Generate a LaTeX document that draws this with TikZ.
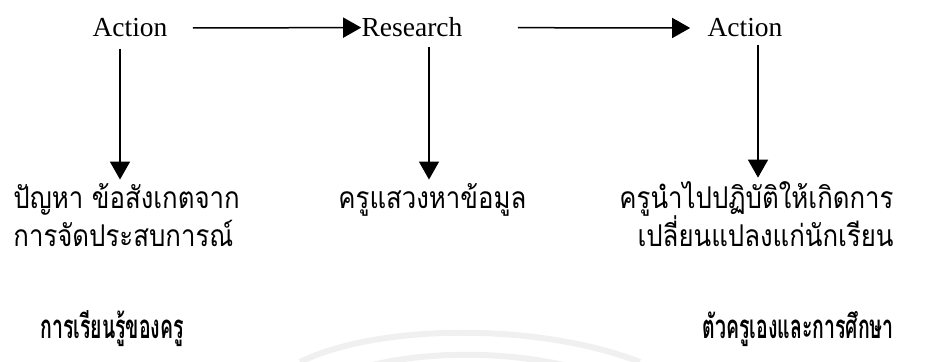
\documentclass[tikz,border=0pt]{standalone}
\usepackage{fontspec}
\setmainfont{Liberation Serif}
\newfontfamily\thaifont[Script=Thai, FakeStretch=0.86]{Loma}
\newfontfamily\thaiboldfont[Script=Thai, FakeStretch=0.59]{Loma}
\usetikzlibrary{arrows.meta}
\tikzset{
  word/.style={inner sep=0pt, font=\fontsize{13.75}{16}\selectfont},
  thai/.style={inner sep=0pt, font=\thaifont\fontsize{15}{18}\selectfont},
  thaibold/.style={inner sep=0pt, font=\thaiboldfont\bfseries\fontsize{16.5}{18}\selectfont},
  arr/.style={-{Triangle[width=10pt,length=9pt]}, line width=0.75pt},
}
\begin{document}
\begin{tikzpicture}[x=0.5pt,y=-0.5pt]
  \useasboundingbox (0,0) rectangle (925,362);
  % faint watermark
  \draw[gray!12, line width=3pt] (300,362) .. controls (380,323) and (540,323) .. (640,362);
  \draw[gray!12, line width=3pt] (340,375) .. controls (410,348) and (520,348) .. (600,375);
  % top row
  \node[word, anchor=base] (act1) at (130,37) {Action};
  \node[word, anchor=base] (res) at (412,37) {Research};
  \node[word, anchor=base] (act2) at (745,37) {Action};
  % thai text
  \node[thai, anchor=base west] (probA) at (13,209) {ปัญหา ข้อสังเกตจาก};
  \node[thai, anchor=base west] (probB) at (13,247) {การจัดประสบการณ์};
  \node[thaibold, anchor=base west] (learn) at (40,339) {การเรียนรู้ของครู};
  \node[thai, anchor=base west] (seek) at (338,209) {ครูแสวงหาข้อมูล};
  \node[thai, anchor=base east] (useA) at (894,209) {ครูนำไปปฏิบัติให้เกิดการ};
  \node[thai, anchor=base east] (useB) at (894,247) {เปลี่ยนแปลงแก่นักเรียน};
  \node[thaibold, anchor=base east] (self) at (894,339) {ตัวครูเองและการศึกษา};
  \begin{scope}[arr]
    \draw[shorten <=12.5pt] (act1.east) to (res.west);
    \draw[shorten <=27.5pt, shorten >=8.5pt] (res.east) to (act2.west);
    \draw[shorten <=5.5pt, shorten >=2pt] ([xshift=-5pt]act1.south) to ([xshift=-5pt]act1.south |- probA.north);
    \draw[shorten <=4.5pt, shorten >=2pt] ([xshift=8.5pt]res.south) to ([xshift=8.5pt]res.south |- seek.north);
    \draw[shorten <=3.5pt, shorten >=2pt] ([xshift=6.5pt]act2.south) to ([xshift=6.5pt]act2.south |- useA.north);
  \end{scope}
\end{tikzpicture}
\end{document}
